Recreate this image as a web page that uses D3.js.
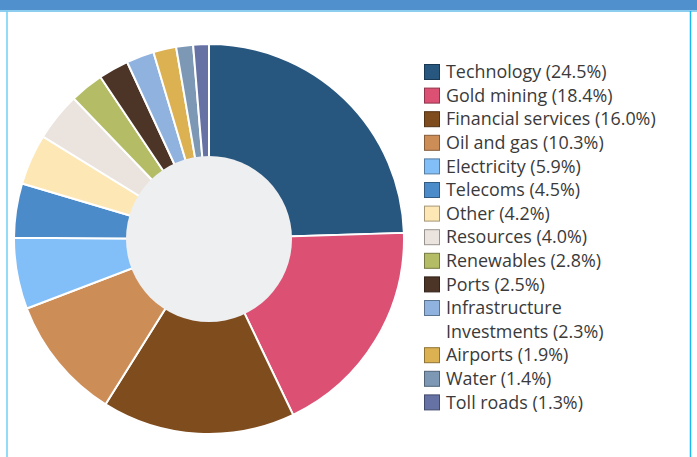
<!DOCTYPE html>
<html>
<head>
<meta charset="utf-8">
<script src="https://cdn.jsdelivr.net/npm/d3@7"></script>
<style>
  body { margin: 0; background: #fff; }
  svg { display: block; font-family: "Open Sans", sans-serif; }
</style>
</head>
<body>
<div id="chart"></div>
<script>
// data
var sectors = ["Technology", "Gold mining", "Financial services", "Oil and gas", "Electricity",
               "Telecoms", "Other", "Resources", "Renewables", "Ports",
               "Infrastructure Investments", "Airports", "Water", "Toll roads"];
var shares = [24.5, 18.4, 16.0, 10.3, 5.9, 4.5, 4.2, 4.0, 2.8, 2.5, 2.3, 1.9, 1.4, 1.3];
var colours = ["#27567f", "#dc5073", "#7f4c1e", "#cd8d57", "#82bef7", "#4b8bc9", "#fde7b5",
               "#ebe3dd", "#b4bc66", "#4c3426", "#8fb2de", "#dbb152", "#7d98b4", "#6672a4"];

var W = 697, H = 457;
var cx = 209, cy = 239, outerR = 195, innerR = 83;

var svg = d3.select("#chart").append("svg")
            .attr("width", W)
            .attr("height", H);

// frame
svg.append("rect").attr("x", 0).attr("y", 0).attr("width", W).attr("height", 10).attr("fill", "#5090cd");
svg.append("rect").attr("x", 0).attr("y", 10).attr("width", W).attr("height", 2).attr("fill", "#8ccdf0");
svg.append("line").attr("x1", 7).attr("x2", 7).attr("y1", 11).attr("y2", H)
   .attr("stroke", "#6fcff5").attr("stroke-width", 1.5);
svg.append("line").attr("x1", 690.5).attr("x2", 690.5).attr("y1", 11).attr("y2", H)
   .attr("stroke", "#1ab8ee").attr("stroke-width", 1.5);

var data = sectors.map(function(s, i) { return {name: s, value: shares[i], colour: colours[i]}; });

var pie = d3.pie().sort(null).value(function(d) { return d.value; });
var arc = d3.arc().innerRadius(0).outerRadius(outerR);

var g = svg.append("g").attr("transform", "translate(" + cx + "," + cy + ")");

g.selectAll("path")
  .data(pie(data))
  .enter()
  .append("path")
  .attr("d", arc)
  .attr("fill", function(d) { return d.data.colour; })
  .attr("stroke", "#fff")
  .attr("stroke-width", 2)
  .attr("stroke-linejoin", "round");

// centre hole
g.append("circle").attr("r", innerR).attr("fill", "#eeeff1");

// legend
var legX = 424, legY = 72, step = 23.6;
var legend = svg.append("g");
var line = 0;
data.forEach(function(d) {
  var y = legY + line * step;
  legend.append("rect")
    .attr("x", legX + 0.5).attr("y", y - 7.5)
    .attr("width", 15).attr("height", 15)
    .attr("fill", d.colour)
    .attr("stroke", d3.color(d.colour).darker(1.2))
    .attr("stroke-width", 1);
  var words = d.name == "Infrastructure Investments" ? ["Infrastructure", "Investments (" + d.value.toFixed(1) + "%)"]
                                                     : [d.name + " (" + d.value.toFixed(1) + "%)"];
  words.forEach(function(w, k) {
    legend.append("text")
      .attr("x", legX + 22)
      .attr("y", y + k * step)
      .attr("dy", "0.35em")
      .attr("font-size", 17.9)
      .attr("fill", "#3a3a3a")
      .text(w);
  });
  line += words.length;
});
</script>
</body>
</html>
